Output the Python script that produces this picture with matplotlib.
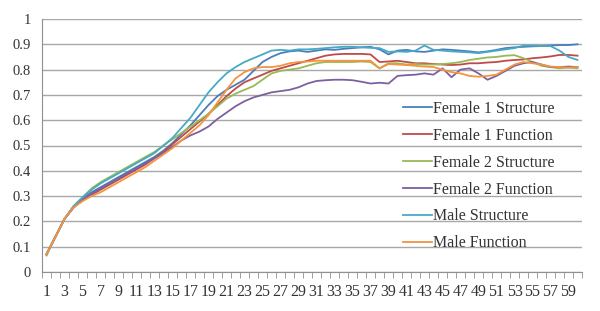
import matplotlib
matplotlib.use("Agg")
import matplotlib.pyplot as plt
import numpy as np

categories = list(range(1, 61))

female1_structure = [0.07, 0.14, 0.21, 0.255, 0.29, 0.315, 0.335, 0.355, 0.375, 0.395,
                     0.415, 0.435, 0.455, 0.48, 0.51, 0.545, 0.58, 0.62, 0.66, 0.695,
                     0.72, 0.74, 0.76, 0.795, 0.83, 0.85, 0.865, 0.872, 0.875, 0.87,
                     0.875, 0.88, 0.878, 0.882, 0.885, 0.888, 0.89, 0.88, 0.86, 0.875,
                     0.878, 0.872, 0.87, 0.875, 0.88, 0.878, 0.875, 0.872, 0.868, 0.872,
                     0.878, 0.885, 0.888, 0.89, 0.892, 0.893, 0.895, 0.897, 0.897, 0.90]
female1_function = [0.07, 0.14, 0.21, 0.255, 0.285, 0.305, 0.325, 0.345, 0.365, 0.385,
                    0.405, 0.425, 0.45, 0.475, 0.505, 0.535, 0.565, 0.595, 0.625, 0.66,
                    0.695, 0.725, 0.75, 0.765, 0.78, 0.795, 0.805, 0.815, 0.825, 0.835,
                    0.845, 0.855, 0.86, 0.862, 0.862, 0.862, 0.86, 0.83, 0.832, 0.835,
                    0.83, 0.825, 0.825, 0.822, 0.82, 0.818, 0.82, 0.825, 0.825, 0.828,
                    0.83, 0.835, 0.838, 0.84, 0.845, 0.848, 0.852, 0.858, 0.858, 0.855]
female2_structure = [0.065, 0.14, 0.21, 0.26, 0.295, 0.33, 0.355, 0.375, 0.395, 0.415,
                     0.435, 0.455, 0.475, 0.50, 0.525, 0.55, 0.575, 0.60, 0.625, 0.655,
                     0.685, 0.705, 0.72, 0.735, 0.76, 0.785, 0.795, 0.80, 0.805, 0.815,
                     0.825, 0.83, 0.83, 0.83, 0.83, 0.832, 0.83, 0.805, 0.825, 0.825,
                     0.82, 0.822, 0.82, 0.82, 0.822, 0.825, 0.83, 0.838, 0.843, 0.848,
                     0.85, 0.855, 0.857, 0.845, 0.83, 0.815, 0.81, 0.805, 0.808, 0.805]
female2_function = [0.07, 0.14, 0.21, 0.255, 0.285, 0.31, 0.33, 0.35, 0.37, 0.39,
                    0.41, 0.43, 0.45, 0.47, 0.495, 0.52, 0.54, 0.555, 0.575, 0.605,
                    0.63, 0.655, 0.675, 0.69, 0.70, 0.71, 0.715, 0.72, 0.73, 0.745,
                    0.755, 0.758, 0.76, 0.76, 0.758, 0.752, 0.745, 0.748, 0.745, 0.775,
                    0.778, 0.78, 0.785, 0.78, 0.805, 0.77, 0.80, 0.805, 0.785, 0.76,
                    0.775, 0.795, 0.815, 0.825, 0.83, 0.82, 0.81, 0.81, 0.812, 0.81]
male_structure = [0.07, 0.14, 0.21, 0.26, 0.295, 0.325, 0.35, 0.37, 0.39, 0.41,
                  0.43, 0.45, 0.47, 0.50, 0.53, 0.57, 0.61, 0.66, 0.71, 0.75,
                  0.785, 0.81, 0.83, 0.845, 0.86, 0.875, 0.878, 0.875, 0.88, 0.88,
                  0.882, 0.885, 0.888, 0.89, 0.89, 0.888, 0.886, 0.885, 0.87, 0.872,
                  0.87, 0.875, 0.895, 0.878, 0.875, 0.872, 0.87, 0.868, 0.865, 0.87,
                  0.875, 0.88, 0.885, 0.895, 0.895, 0.893, 0.893, 0.875, 0.85, 0.838]
male_function = [0.07, 0.14, 0.21, 0.255, 0.28, 0.30, 0.315, 0.335, 0.355, 0.375,
                 0.395, 0.415, 0.44, 0.465, 0.49, 0.52, 0.55, 0.58, 0.62, 0.67,
                 0.72, 0.765, 0.79, 0.805, 0.81, 0.81, 0.815, 0.825, 0.83, 0.832,
                 0.835, 0.835, 0.835, 0.835, 0.835, 0.835, 0.835, 0.805, 0.822, 0.82,
                 0.818, 0.815, 0.812, 0.81, 0.80, 0.79, 0.785, 0.775, 0.772, 0.775,
                 0.78, 0.80, 0.82, 0.83, 0.825, 0.82, 0.812, 0.81, 0.808, 0.81]

series_names = ["Female 1 Structure", "Female 1 Function", "Female 2 Structure",
                "Female 2 Function", "Male Structure", "Male Function"]
series_values = [female1_structure, female1_function, female2_structure,
                 female2_function, male_structure, male_function]
colors = ["#4A7EBB", "#BE4B48", "#98B954", "#7D60A0", "#46AAC5", "#F69240"]

y_ticks = [0, 0.1, 0.2, 0.3, 0.4, 0.5, 0.6, 0.7, 0.8, 0.9, 1]
y_tick_labels = ["0", "0.1", "0.2", "0.3", "0.4", "0.5", "0.6", "0.7", "0.8", "0.9", "1"]

plt.rcParams['font.family'] = ['Liberation Serif', 'DejaVu Serif']

fig = plt.figure(figsize=(6.0, 3.11), dpi=100)
ax = fig.add_axes([42/600, 1 - 272/311, 540/600, 253/311])

x = np.array(categories)
for name, vals, c in zip(series_names, series_values, colors):
    ax.plot(x, vals, color=c, lw=1.3, label=name, solid_joinstyle='round')

ax.set_xlim(0.5, 60.5)
ax.set_ylim(0, 1)
ax.set_yticks(y_ticks)
ax.set_yticklabels(y_tick_labels, fontsize=10.5, color="#333333")
ax.yaxis.grid(True, color="#a8a8a8", lw=1.0)
ax.set_axisbelow(True)
ax.tick_params(axis='y', length=0, pad=8)

ax.set_xticks(x[::2])
ax.set_xticklabels([str(c) for c in categories[::2]], fontsize=11.5, color="#333333")
ax.set_xticks(np.arange(0.5, 61, 1), minor=True)
ax.tick_params(axis='x', which='major', length=0, pad=9)
ax.tick_params(axis='x', which='minor', length=4, color="#909090", direction='out')

for s in ['top', 'right']:
    ax.spines[s].set_visible(False)
ax.spines['left'].set_color("#909090")
ax.spines['bottom'].set_color("#909090")

leg = ax.legend(loc='upper left', bbox_to_anchor=(403/600, 1 - 101/311),
                bbox_transform=fig.transFigure, frameon=False, fontsize=11.5,
                handlelength=1.8, handletextpad=0.1, labelspacing=0.68,
                borderaxespad=0, borderpad=0)
for t in leg.get_texts():
    t.set_color("#333333")

fig.savefig("out.png", dpi=100, facecolor="white")
